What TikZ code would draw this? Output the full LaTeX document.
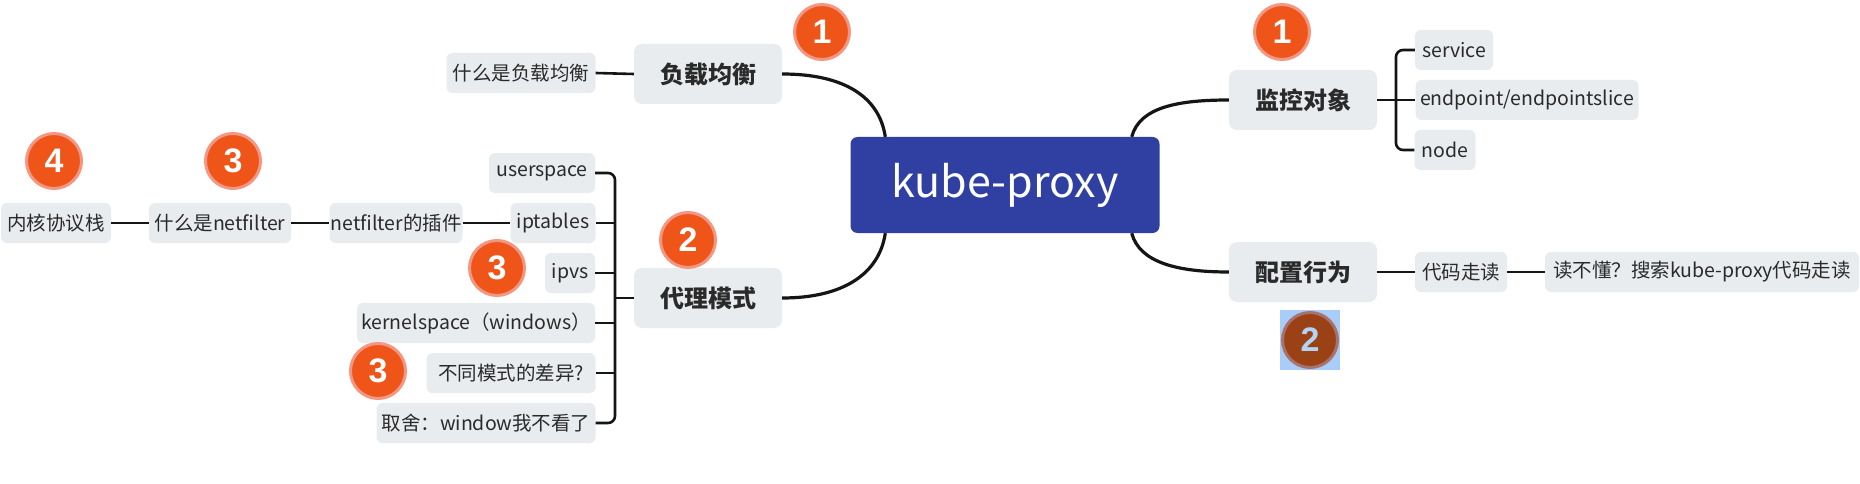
\documentclass[tikz,border=0pt]{standalone}
\usepackage{fontspec}
\setmainfont{Noto Sans CJK SC}
\newfontfamily\badgefont{Liberation Sans}
\definecolor{boxgray}{HTML}{E9ECEF}
\definecolor{kpblue}{HTML}{2F3FA2}
\definecolor{badgeor}{HTML}{EF5419}
\definecolor{badgebd}{HTML}{F39682}
\definecolor{brownb}{HTML}{9A4216}
\definecolor{brownbd}{HTML}{A9726E}
\definecolor{hlblue}{HTML}{A8CDF8}
\definecolor{hltext}{HTML}{B2D3F5}
\definecolor{linec}{HTML}{151515}
\definecolor{txt}{HTML}{2A2A2A}
\tikzset{
  sub/.style={fill=boxgray, rounded corners=6pt, minimum height=40pt, inner sep=0pt,
    font=\fontsize{19.5pt}{22pt}\selectfont, text=txt},
  top/.style={fill=boxgray, rounded corners=8pt, minimum height=60pt, minimum width=148pt, inner sep=0pt,
    font=\fontsize{24pt}{28pt}\selectfont\bfseries, text=txt},
  badge/.style={circle, fill=badgeor, draw=badgebd, line width=3pt, minimum size=55pt, inner sep=0pt,
    text=white, font=\badgefont\bfseries\fontsize{34pt}{34pt}\selectfont},
  conn/.style={draw=linec, line width=2.6pt},
  mainconn/.style={draw=linec, line width=3.2pt},
}
\begin{document}
\begin{tikzpicture}[x=1pt,y=-1pt]
\useasboundingbox (0,0) rectangle (1860,484);
\fill[white] (0,0) rectangle (1860,484);

% central node
\node[fill=kpblue, rounded corners=7pt, minimum width=309pt, minimum height=96pt, inner sep=0pt,
  text=white, font=\fontsize{43pt}{46pt}\selectfont] (kp) at (1005,185) {kube-proxy};

% level 1
\node[top] (lb)  at (708,74)  {负载均衡};
\node[top] (pm)  at (708,298) {代理模式};
\node[top] (mon) at (1303,100) {监控对象};
\node[top] (cfg) at (1303,272) {配置行为};

% left subtree
\node[sub, minimum width=149pt] (lb2) at (521,73) {什么是负载均衡};
\node[sub, minimum width=106pt] (us)  at (542,173) {userspace};
\node[sub, minimum width=85pt]  (ipt) at (553,223) {iptables};
\node[sub, minimum width=50pt]  (ipvs) at (570,273) {ipvs};
\node[sub, minimum width=238pt] (ks)  at (476,323) {kernelspace（windows）};
\node[sub, minimum width=169pt] (diff) at (511,373) {不同模式的差异?};
\node[sub, minimum width=219pt] (qs)  at (486,423) {取舍：window我不看了};
\node[sub, minimum width=110pt] (nk)  at (56,223) {内核协议栈};
\node[sub, minimum width=142pt] (nf)  at (220,223) {什么是netfilter};
\node[sub, minimum width=133pt] (nfp) at (396,223) {netfilter的插件};

% right subtree
\node[sub, minimum width=78pt]  (svc)  at (1454,50)  {service};
\node[sub, minimum width=223pt] (ep)   at (1527,100) {endpoint/endpointslice};
\node[sub, minimum width=61pt]  (nd)   at (1445,150) {node};
\node[sub, minimum width=92pt]  (code) at (1461,272) {代码走读};
\node[sub, minimum width=314pt] (read) at (1702,272) {读不懂？搜索kube-proxy代码走读};

% anchor coordinates
\coordinate (kpa) at ([xshift=35pt]kp.north west);
\coordinate (kpb) at ([xshift=35pt]kp.south west);
\coordinate (kpc) at ([xshift=-28pt]kp.north east);
\coordinate (kpd) at ([xshift=-28pt]kp.south east);
\coordinate (pmj) at (615,298);
\coordinate (monj) at (1396,100);

% main curves
\draw[mainconn] (lb.east) .. controls +(62,0) and +(-6,-40) .. (kpa);
\draw[mainconn] (pm.east) .. controls +(62,0) and +(-6,40) .. (kpb);
\draw[mainconn] (kpc) .. controls +(8,-30) and +(-50,0) .. (mon.west);
\draw[mainconn] (kpd) .. controls +(8,30) and +(-50,0) .. (cfg.west);

% branches
\draw[conn] (lb2.east) -- (lb.west);
\draw[conn] (nk.east) -- (nf.west);
\draw[conn] (nf.east) -- (nfp.west);
\draw[conn] (nfp.east) -- (ipt.west);
\draw[conn] (cfg.east) -- (code.west);
\draw[conn] (code.east) -- (read.west);

% bracket for 代理模式
\draw[conn, rounded corners=7pt] (us.east) -| (pmj) |- (qs.east);
\draw[conn] (ipt.east) -- (ipt.east -| pmj);
\draw[conn] (ipvs.east) -- (ipvs.east -| pmj);
\draw[conn] (ks.east) -- (ks.east -| pmj);
\draw[conn] (diff.east) -- (diff.east -| pmj);
\draw[conn] (pm.west) -- (pmj);

% bracket for 监控对象
\draw[conn, rounded corners=7pt] (svc.west) -| (monj) |- (nd.west);
\draw[conn] (mon.east) -- (ep.west);

% badges
\node[badge] (b1a) at (822,32) {1};
\node[badge] (b1b) at (1282,32) {1};
\node[badge] (b2a) at (688,240) {2};
\node[badge] (b3a) at (233,161) {3};
\node[badge] (b4)  at (54,161) {4};
\node[badge] (b3b) at (497,268) {3};
\node[badge] (b3c) at (378,371) {3};
\fill[hlblue] (1280,310) rectangle (1340,370);
\node[badge, fill=brownb, draw=brownbd, text=hltext] (b2b) at (1310,340) {2};
\end{tikzpicture}
\end{document}
